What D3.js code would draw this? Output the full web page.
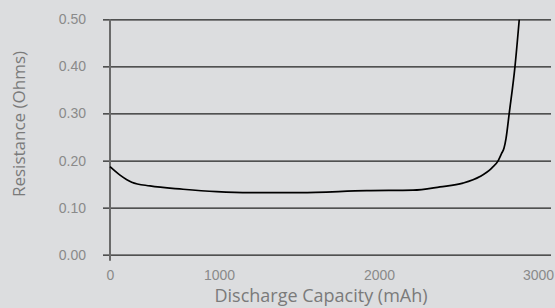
<!DOCTYPE html>
<html>
<head>
<meta charset="utf-8">
<script src="https://cdn.jsdelivr.net/npm/d3@7"></script>
<style>
  html, body { margin: 0; padding: 0; background: #dcdddf; }
  svg { display: block; font-family: "Open Sans", sans-serif; }
</style>
</head>
<body>
<svg id="chart"></svg>
<script>
// values
const capacity = [0, 92, 199, 367, 670, 979, 1194, 1506, 1923, 2214, 2384, 2528, 2635, 2709, 2750, 2771, 2786, 2799, 2819, 2855, 2882];
const resistance = [0.187, 0.169, 0.154, 0.146, 0.139, 0.134, 0.132, 0.132, 0.136, 0.137, 0.144, 0.152, 0.166, 0.184, 0.200, 0.215, 0.226, 0.247, 0.300, 0.399, 0.499];
const xTicks = [0, 1000, 2000, 3000];
const yTicks = [0, 0.1, 0.2, 0.3, 0.4, 0.5];

const W = 555, H = 308;
const svg = d3.select('#chart').attr('width', W).attr('height', H);

// the x ticks in the source are not evenly spaced, so use a piecewise scale
const x = d3.scaleLinear()
  .domain([0, 1000, 2000, 3000])
  .range([110, 219, 379, 538]);

const y = d3.scaleLinear()
  .domain([0, 0.5])
  .range([254.7, 19.3]);

// horizontal grid + y labels
const yAxis = d3.axisLeft(y)
  .tickValues(yTicks)
  .tickFormat(d3.format('.2f'))
  .tickSize(-448)
  .tickPadding(17);

const gy = svg.append('g')
  .attr('transform', 'translate(103,0)')
  .call(yAxis);
gy.select('.domain').remove();
gy.selectAll('.tick line').attr('stroke', '#222').attr('stroke-width', 1.3);
gy.selectAll('.tick text')
  .attr('fill', '#8a8a8a')
  .style('font-size', '14px');

// x labels
const xAxis = d3.axisBottom(x)
  .tickValues(xTicks)
  .tickFormat(d3.format('d'))
  .tickSize(0)
  .tickPadding(15.5);

const gx = svg.append('g')
  .attr('transform', `translate(0,${y(0)})`)
  .call(xAxis);
gx.select('.domain').remove();
gx.selectAll('.tick text')
  .attr('fill', '#8a8a8a')
  .style('font-size', '14px');

// vertical axis line
svg.append('line')
  .attr('x1', x(0)).attr('x2', x(0))
  .attr('y1', y(0.5)).attr('y2', y(0) + 6)
  .attr('stroke', '#6a6a6a')
  .attr('stroke-width', 2);

// curve
const line = d3.line()
  .x((d, i) => x(capacity[i]))
  .y(d => y(d))
  .curve(d3.curveMonotoneX);

svg.append('path')
  .datum(resistance)
  .attr('fill', 'none')
  .attr('stroke', '#000')
  .attr('stroke-width', 1.7)
  .attr('d', line);

// axis titles
svg.append('text')
  .attr('x', 321)
  .attr('y', 302)
  .attr('text-anchor', 'middle')
  .attr('fill', '#7a7a7a')
  .style('font-size', '18px')
  .text('Discharge Capacity (mAh)');

svg.append('text')
  .attr('transform', 'translate(25,124) rotate(-90)')
  .attr('text-anchor', 'middle')
  .attr('fill', '#7a7a7a')
  .style('font-size', '17px')
  .text('Resistance (Ohms)');
</script>
</body>
</html>
